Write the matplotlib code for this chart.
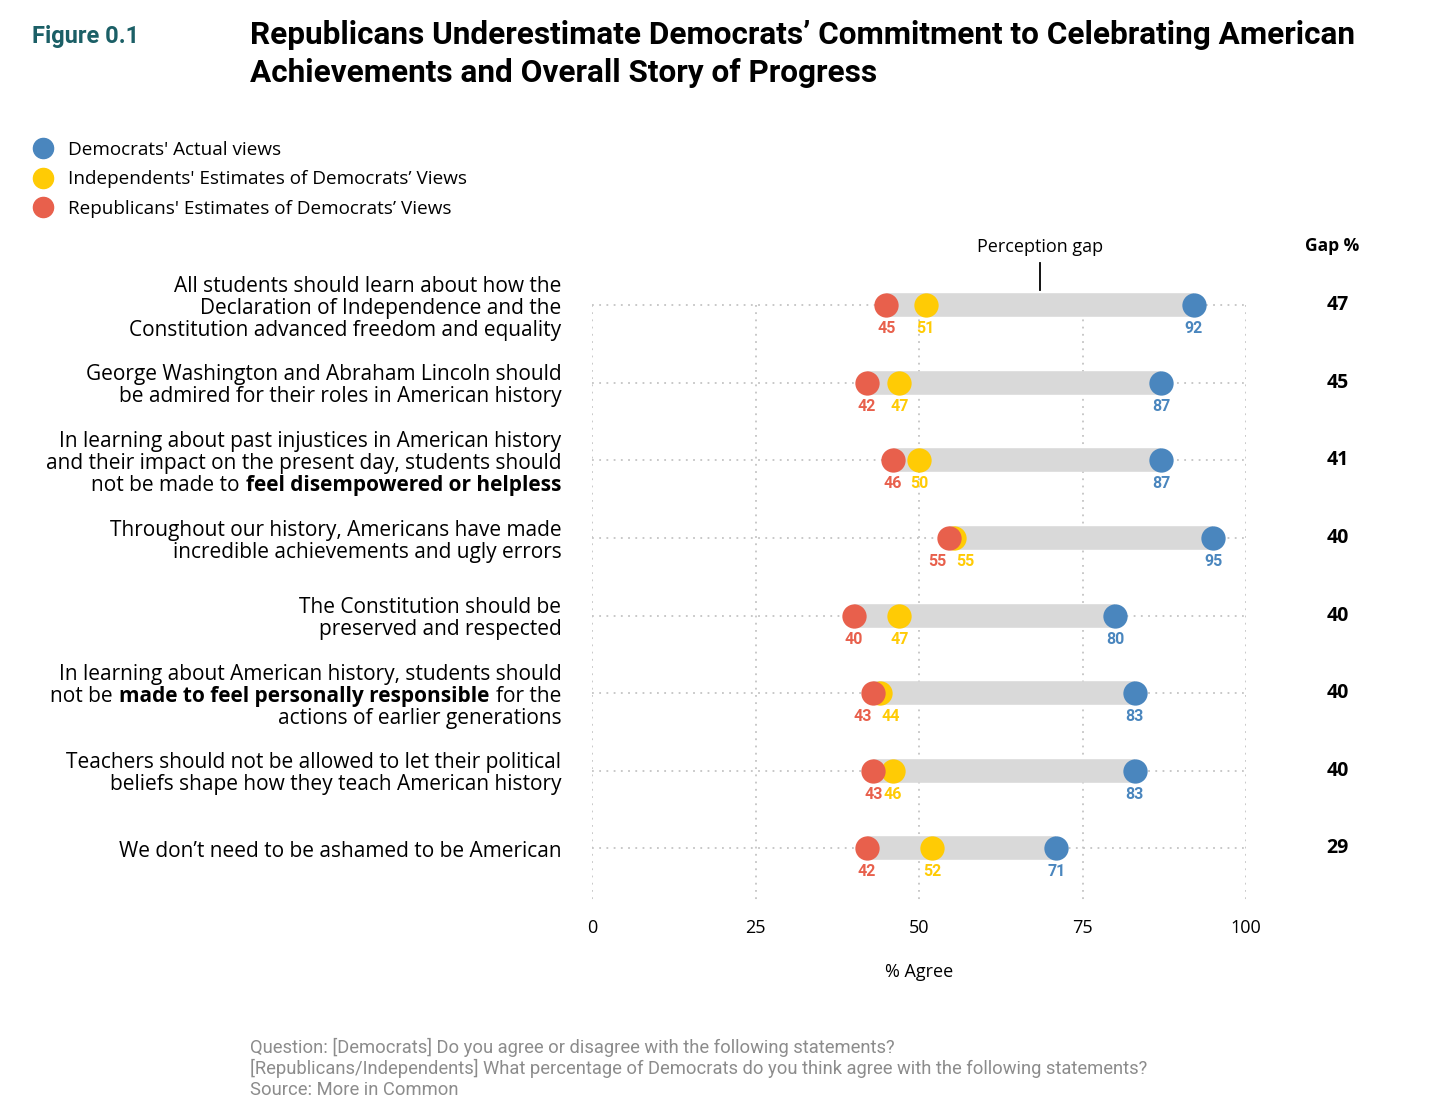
import matplotlib.pyplot as plt
from matplotlib.lines import Line2D
from matplotlib.offsetbox import TextArea, HPacker, VPacker, AnnotationBbox

# statements, one list of lines each; a line is a list of (text, bold) pieces
statements = [
    [[("All students should learn about how the", False)],
     [("Declaration of Independence and the", False)],
     [("Constitution advanced freedom and equality", False)]],
    [[("George Washington and Abraham Lincoln should", False)],
     [("be admired for their roles in American history", False)]],
    [[("In learning about past injustices in American history", False)],
     [("and their impact on the present day, students should", False)],
     [("not be made to", False), ("feel disempowered or helpless", True)]],
    [[("Throughout our history, Americans have made", False)],
     [("incredible achievements and ugly errors", False)]],
    [[("The Constitution should be", False)],
     [("preserved and respected", False)]],
    [[("In learning about American history, students should", False)],
     [("not be", False), ("made to feel personally responsible", True), ("for the", False)],
     [("actions of earlier generations", False)]],
    [[("Teachers should not be allowed to let their political", False)],
     [("beliefs shape how they teach American history", False)]],
    [[("We don\u2019t need to be ashamed to be American", False)]],
]
democrats = [92, 87, 87, 95, 80, 83, 83, 71]
independents = [51, 47, 50, 55.4, 47, 44, 46, 52]
republicans = [45, 42, 46, 54.6, 40, 43, 43, 42]
gaps = [47, 45, 41, 40, 40, 40, 40, 29]
x_ticks = [0, 25, 50, 75, 100]

BLUE = '#4a86be'
YELLOW = '#ffcb05'
RED = '#e8604c'
GREY_BAR = '#d9d9d9'
GRID = '#c4c4c4'
TEAL = '#1b5f66'

BODY = 'Open Sans'
COND = 'Roboto'

fig = plt.figure(figsize=(14.56, 11.15), dpi=100)
ax = fig.add_axes([592 / 1456, 1 - 905 / 1115, 654 / 1456, 620 / 1115])
ax.set_xlim(0, 100)
ax.set_ylim(7.73, -0.26)
for s in ax.spines.values():
    s.set_visible(False)
ax.set_yticks([])
ax.set_xticks(x_ticks)
ax.tick_params(axis='x', length=0, pad=10, labelsize=13)
for lab in ax.get_xticklabels():
    lab.set_fontfamily(BODY)
ax.set_xlabel('% Agree', fontsize=13, family=BODY, labelpad=19)

rows = list(range(len(statements)))

# dotted grid
ax.hlines(rows, 0, 100, color=GRID, linestyle=(0, (1, 3)), lw=1.3, zorder=0)
ax.vlines(x_ticks, 0, 7.68, color=GRID, linestyle=(0, (1, 3)), lw=1.3, zorder=0)

for i in rows:
    d, ind, r = democrats[i], independents[i], republicans[i]
    lo = min(r, ind)
    ax.hlines(i, lo, d, color=GREY_BAR, lw=17, capstyle='butt', zorder=1)
    ax.scatter([ind], [i], s=17.5 ** 2, color=YELLOW, lw=0, zorder=3)
    ax.scatter([r], [i], s=17.5 ** 2, color=RED, lw=0, zorder=4)
    ax.scatter([d], [i], s=17.5 ** 2, color=BLUE, lw=0, zorder=4)

    # value labels, pushed apart when the two estimates sit too close
    if abs(ind - r) < 2.5:
        mid = (ind + r) / 2
        pos = [(r, mid, -10), (ind, mid, 10)]
    else:
        pos = [(r, r, 0), (ind, ind, 0)]
    for (v, x, dx), c in zip(pos, [RED, YELLOW]):
        ax.annotate(f"{v:.0f}", (x, i), xytext=(dx, -17), textcoords='offset points',
                    ha='center', va='center', color=c, fontsize=11.5,
                    fontweight='bold', family=COND)
    ax.annotate(f"{d:.0f}", (d, i), xytext=(0, -17), textcoords='offset points',
                ha='center', va='center', color=BLUE, fontsize=11.5,
                fontweight='bold', family=COND)

    # gap column
    ax.text(114, i, str(gaps[i]), ha='center', va='center', fontsize=14,
            fontweight='bold', family=BODY, clip_on=False)

    # statement label
    lines = []
    for line in statements[i]:
        parts = [TextArea(t, textprops=dict(fontsize=15, family=BODY,
                                             fontweight='bold' if b else 'normal'))
                 for t, b in line]
        lines.append(HPacker(children=parts, sep=4.5, pad=0, align='baseline'))
    box = VPacker(children=lines, sep=0.8, pad=0, align='right')
    ab = AnnotationBbox(box, (-4.7, i + 0.04), box_alignment=(1, 0.5), frameon=False,
                        pad=0, annotation_clip=False, xycoords='data')
    ax.add_artist(ab)

ax.text(113.2, -0.76, 'Gap %', ha='center', va='center', fontsize=12.5,
        fontweight='bold', family=BODY, clip_on=False)

# perception gap callout on the first row
mid0 = (republicans[0] + democrats[0]) / 2
ax.plot([mid0, mid0], [-0.19, -0.54], color='black', lw=1.3, clip_on=False)
ax.text(mid0, -0.75, 'Perception gap', ha='center', va='center', fontsize=13,
        family=BODY, clip_on=False)

# legend
handles = [Line2D([], [], marker='o', ls='', color=c, markersize=14.5)
           for c in [BLUE, YELLOW, RED]]
fig.legend(handles, ["Democrats' Actual views",
                     "Independents' Estimates of Democrats\u2019 Views",
                     "Republicans' Estimates of Democrats\u2019 Views"],
           loc='upper left', bbox_to_anchor=(24 / 1456, 1 - 133 / 1115),
           frameon=False, prop=dict(family=BODY, size=13.6), handletextpad=0.75,
           labelspacing=0.62, handlelength=1.2, borderaxespad=0)

# header
fig.text(32 / 1456, 1 - 37 / 1115, 'Figure 0.1', color=TEAL, fontsize=17,
         fontweight='bold', family=COND, va='center')
fig.text(250 / 1456, 1 - 54 / 1115,
         'Republicans Underestimate Democrats\u2019 Commitment to Celebrating American\n'
         'Achievements and Overall Story of Progress',
         fontsize=22.7, fontweight='bold', family=COND, va='center', linespacing=1.3)

# footer
fig.text(250 / 1456, 1 - 1068 / 1115,
         'Question: [Democrats] Do you agree or disagree with the following statements?\n'
         '[Republicans/Independents] What percentage of Democrats do you think agree with the following statements?\n'
         'Source: More in Common',
         fontsize=13.2, color='#8c8c8c', family=COND, va='center', linespacing=1.17)

fig.savefig('out.png', dpi=100)
